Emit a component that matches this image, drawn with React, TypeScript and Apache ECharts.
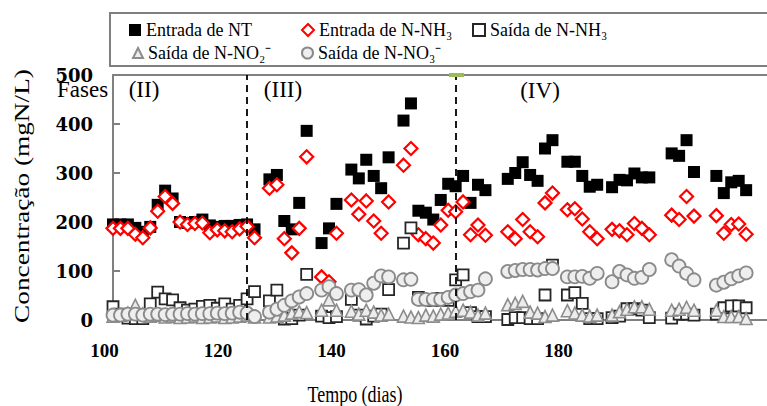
import React, { useEffect, useRef } from 'react';
import * as echarts from 'echarts';

// Sampling days (x values)
const days = [
  100, 101, 102, 103, 104, 105, 106, 107, 108, 109, 110, 111, 112, 113, 114, 115, 116, 117, 118, 119,
  121, 122, 123, 124, 125, 126,
  128, 129, 130,
  132, 133, 134, 135, 136, 137,
  139, 140, 141, 142, 143, 144, 145, 146, 147, 148, 149, 150,
  153, 154, 155, 156, 157, 158, 159,
  161, 162, 163, 164, 165,
  167, 168, 169, 170, 171, 172,
  175, 176, 177, 178,
  181, 182, 183, 184, 185,
];

const entradaNT = [
  195, 195, 195, 188, 180, 190, 235, 264, 248, 200, 198, 200, 205, 193, 190, 192, 192, 194, 195, 185,
  287, 296, 202, 185, 239, 386,
  157, 187, 237,
  307, 289, 327, 294, 269, 332,
  407, 442, 223, 219, 205, 245, 278, 273, 294, 239, 276, 265,
  288, 300, 322, 296, 284, 350, 367,
  323, 323, 294, 272, 276,
  271, 286, 285, 299, 291, 291,
  340, 335, 367, 302,
  294, 259, 281, 284, 265,
];

const entradaNH3 = [
  187, 187, 187, 175, 168, 188, 222, 252, 238, 200, 195, 197, 198, 178, 184, 182, 180, 186, 191, 168,
  269, 276, 166, 137, 187, 333,
  88, 78, 177,
  245, 216, 243, 202, 177, 241,
  316, 350, 174, 166, 157, 194, 224, 221, 241, 174, 194, 173,
  180, 166, 205, 180, 170, 239, 259,
  225, 227, 206, 180, 166,
  185, 182, 174, 197, 187, 174,
  214, 205, 252, 212,
  213, 177, 195, 196, 175,
];

const saidaNH3 = [
  27, 12, 4, 3, 3, 33, 57, 43, 41, 25, 20, 22, 28, 30, 24, 33, 22, 30, 43, 58,
  39, 61, 2, 3, 10, 93,
  8, 5, 7,
  42, 10, 2, 8, 12, 62,
  157, 188, 46, 41, 40, 44, 40, 82, 92, 15, 7, 7,
  1, 5, 5, 3, 3, 51, 112,
  51, 56, 34, 3, 3,
  5, 8, 23, 23, 20, 5,
  4, 12, 12, 10,
  12, 25, 29, 29, 25,
];

const saidaNO2 = [
  8, 10, 14, 30, 12, 8, 10, 6, 8, 5, 6, 8, 5, 6, 8, 5, 6, 8, 10, 6,
  6, 8, 10, 14, 17, 15,
  20, 41, 20,
  18, 12, 20, 16, 10, 12,
  8, 6, 5, 10, 8, 12, 14, 18, 20, 16, 10, 14,
  31, 34, 38, 16, 14, 7, 10,
  19, 14, 10, 8, 10,
  10, 17, 22, 27, 27, 22,
  20, 22, 26, 20,
  20, 7, 7, 7, 3,
];

const saidaNO3 = [
  10, 10, 12, 12, 10, 12, 12, 11, 12, 12, 13, 12, 13, 13, 14, 13, 14, 16, 14, 7,
  16, 22, 30, 39, 47, 54,
  61, 68, 54,
  61, 62, 51, 75, 90, 88,
  82, 83, 42, 42, 42, 42, 46, 51, 54, 58, 61, 84,
  99, 101, 103, 103, 102, 105, 105,
  88, 88, 89, 85, 95,
  78, 99, 92, 85, 87, 103,
  123, 110, 95, 82,
  71, 77, 84, 90, 96,
];

const seriesNames = [
  'Entrada de NT',
  'Entrada de N-NH\u2083',
  'Saída de N-NH\u2083',
  'Saída de N-NO\u2082\u207B',
  'Saída de N-NO\u2083\u207B',
];

const phaseBoundaries = [118, 146];
const phaseLabels = ['(II)', '(III)', '(IV)'];
const yTitle = 'Concentração (mgN/L)';
const xTitle = 'Tempo (dias)';

const pair = (vals: number[]) => days.map((d, i) => [d, vals[i]]);

const SERIF = '"Liberation Serif", "Times New Roman", serif';

export default function App() {
  const ref = useRef<HTMLDivElement>(null);
  useEffect(() => {
    const chart = echarts.init(ref.current as HTMLDivElement, null, { renderer: 'svg' });
    const mkLegend = (name: string, left: number, top: number, size = 12) => ({
      left,
      top,
      padding: 0,
      itemWidth: size,
      itemHeight: size,
      itemGap: 0,
      selectedMode: false,
      data: [{ name, textStyle: { fontFamily: SERIF, fontSize: 18, color: '#000' } }],
      textStyle: { fontFamily: SERIF, fontSize: 18, color: '#000' },
    });
    chart.setOption({
      animation: false,
      backgroundColor: '#fff',
      textStyle: { fontFamily: SERIF },
      grid: [
        { left: 113, top: 75, right: 0, bottom: 86 },
        { left: 104.5, top: 75, width: 454, bottom: 86 },
      ],
      legend: [
        mkLegend(seriesNames[0], 129, 21),
        mkLegend(seriesNames[1], 301, 21),
        mkLegend(seriesNames[2], 472, 21),
        mkLegend(seriesNames[3], 132, 44, 10),
        mkLegend(seriesNames[4], 301, 44, 11),
      ],
      xAxis: [
        {
          type: 'value', gridIndex: 0, min: 100, max: 187.8,
          axisLine: { show: true, lineStyle: { color: '#808080', width: 2 } },
          axisTick: { show: false }, axisLabel: { show: false }, splitLine: { show: false },
        },
        {
          type: 'value', gridIndex: 1, min: 100, max: 180, interval: 20,
          axisLine: { show: false }, axisTick: { show: false }, splitLine: { show: false },
          axisLabel: { fontFamily: SERIF, fontWeight: 'bold', fontSize: 19, color: '#000', margin: 21 },
        },
        {
          type: 'value', gridIndex: 0, position: 'top', min: 100, max: 187.8,
          axisLine: { show: true, onZero: false, lineStyle: { color: '#808080', width: 2 } },
          axisTick: { show: false }, axisLabel: { show: false }, splitLine: { show: false },
        },
      ],
      yAxis: [
        {
          type: 'value', gridIndex: 0, min: 0, max: 500, interval: 100,
          axisLine: { show: true, lineStyle: { color: '#808080', width: 2 } },
          axisTick: { show: true, inside: true, length: 7, lineStyle: { color: '#808080', width: 2 } },
          splitLine: { show: false },
          axisLabel: { fontFamily: '"DejaVu Serif", serif', fontWeight: 'bold', fontSize: 18, color: '#000', margin: 20 },
        },
        { type: 'value', gridIndex: 1, show: false, min: 0, max: 500 },
      ],
      series: [
        {
          name: seriesNames[0], type: 'scatter', data: pair(entradaNT),
          symbol: 'rect', symbolSize: 12,
          itemStyle: { color: '#000', opacity: 1 },
          markLine: {
            silent: true, symbol: ['none', 'none'], label: { show: false },
            lineStyle: { color: '#000', type: [7, 5], width: 1.8, opacity: 1 },
            data: phaseBoundaries.map((v) => ({ xAxis: v })),
          },
        },
        {
          name: seriesNames[1], type: 'scatter', data: pair(entradaNH3),
          symbol: 'diamond', symbolSize: 13,
          itemStyle: { color: '#fff', borderColor: '#ff0000', borderWidth: 2.2, opacity: 1 },
        },
        {
          name: seriesNames[2], type: 'scatter', data: pair(saidaNH3),
          symbol: 'rect', symbolSize: 11,
          itemStyle: { color: '#fff', borderColor: '#262626', borderWidth: 1.8, opacity: 1 },
        },
        {
          name: seriesNames[3], type: 'scatter', data: pair(saidaNO2),
          symbol: 'triangle', symbolSize: 12,
          itemStyle: { color: '#ececec', borderColor: '#8c8c8c', borderWidth: 1.6, opacity: 1 },
        },
        {
          name: seriesNames[4], type: 'scatter', data: pair(saidaNO3),
          symbol: 'circle', symbolSize: 13,
          itemStyle: { color: '#eeeeee', borderColor: '#8a8a8a', borderWidth: 1.8, opacity: 1 },
        },
      ],
      graphic: [
        {
          type: 'rect', z: 0, silent: true,
          shape: { x: 110, y: 13, width: 700, height: 53 },
          style: { fill: 'none', stroke: '#7f7f7f', lineWidth: 2 },
        },
        {
          type: 'rect', z: 100, silent: true,
          shape: { x: 449, y: 73, width: 15, height: 4 },
          style: { fill: '#9bbb59' },
        },
        {
          type: 'text', z: 100, x: 57, y: 89,
          style: { text: 'Fases', fontFamily: SERIF, fontSize: 23, fill: '#000', align: 'left', verticalAlign: 'middle' },
        },
        {
          type: 'text', z: 100, x: 144, y: 89,
          style: { text: phaseLabels[0], fontFamily: SERIF, fontSize: 23, fill: '#000', align: 'center', verticalAlign: 'middle' },
        },
        {
          type: 'text', z: 100, x: 283, y: 89,
          style: { text: phaseLabels[1], fontFamily: SERIF, fontSize: 23, fill: '#000', align: 'center', verticalAlign: 'middle' },
        },
        {
          type: 'text', z: 100, x: 540, y: 90,
          style: { text: phaseLabels[2], fontFamily: SERIF, fontSize: 23, fill: '#000', align: 'center', verticalAlign: 'middle' },
        },
        {
          type: 'text', z: 100, x: 22, y: 196, rotation: Math.PI / 2, scaleX: 1.3,
          style: { text: yTitle, fontFamily: SERIF, fontSize: 21, fill: '#000', align: 'center', verticalAlign: 'middle' },
        },
        {
          type: 'text', z: 100, x: 355, y: 394, scaleY: 1.25,
          style: { text: xTitle, fontFamily: SERIF, fontSize: 18, fill: '#000', align: 'center', verticalAlign: 'middle' },
        },
      ],
    });
    return () => chart.dispose();
  }, []);
  return (
    <div
      ref={ref}
      style={{ position: 'fixed', left: 0, top: 0, width: 767, height: 406 }}
    />
  );
}
